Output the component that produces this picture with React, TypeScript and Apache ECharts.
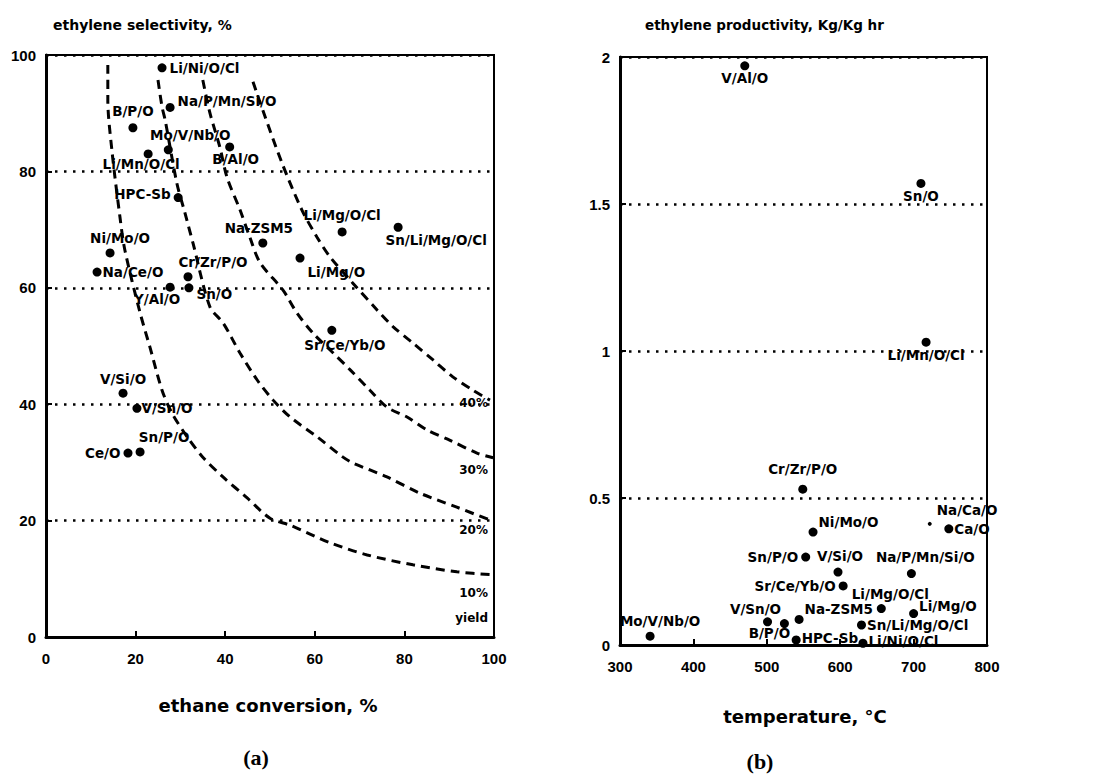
import React, { useEffect, useRef } from "react";
import * as echarts from "echarts";

// ---------- Panel (a): ethylene selectivity vs ethane conversion ----------
const catalystsA = [
  "Li/Ni/O/Cl", "Na/P/Mn/Si/O", "B/P/O", "Mo/V/Nb/O", "Li/Mn/O/Cl", "B/Al/O",
  "HPC-Sb", "Ni/Mo/O", "Na/Ce/O", "Cr/Zr/P/O", "Sn/O", "Y/Al/O", "Li/Mg/O",
  "Li/Mg/O/Cl", "Sn/Li/Mg/O/Cl", "Na-ZSM5", "Sr/Ce/Yb/O", "V/Si/O", "V/Sn/O",
  "Sn/P/O", "Ce/O",
];
const conversionA = [
  25.9, 27.7, 19.4, 27.3, 22.8, 41.0, 29.5, 14.3, 11.4, 31.7, 31.9, 27.7, 56.7,
  66.1, 78.6, 48.4, 63.8, 17.2, 20.3, 21.0, 18.3,
];
const selectivityA = [
  97.8, 91.0, 87.5, 83.7, 83.0, 84.2, 75.5, 66.0, 62.7, 61.9, 60.0, 60.1, 65.1,
  69.6, 70.4, 67.7, 52.7, 41.9, 39.3, 31.8, 31.6,
];

// iso-yield dashed curves
const yield10Conv = [13.8, 13.8, 14.7, 16.5, 17.6, 21.0, 23.2, 25.9, 28.1, 31.5, 35.0, 39.5, 44.9, 50.0, 54.5, 63.4, 71.7, 81.9, 91.7, 99.8];
const yield10Sel = [98.3, 92.3, 83.7, 72.2, 66.5, 55.7, 49.8, 42.4, 38.5, 34.4, 30.9, 27.5, 23.9, 20.4, 19.2, 16.2, 14.1, 12.4, 11.2, 10.7];
const yield20Conv = [25.0, 25.9, 26.6, 29.2, 31.0, 32.8, 36.6, 39.5, 43.3, 47.1, 50.7, 54.5, 60.5, 66.3, 68.5, 76.1, 83.5, 91.7, 99.1];
const yield20Sel = [95.7, 91.1, 88.8, 78.0, 72.9, 67.7, 56.7, 54.0, 48.8, 44.2, 40.7, 37.8, 34.4, 30.9, 29.9, 27.5, 24.7, 22.3, 20.1];
const yield30Conv = [35.0, 36.6, 38.8, 40.4, 43.3, 45.5, 47.8, 52.9, 56.0, 59.6, 64.1, 67.9, 72.3, 76.1, 80.6, 85.0, 90.2, 96.2, 99.8];
const yield30Sel = [95.7, 90.0, 84.2, 79.0, 73.4, 68.7, 64.3, 59.6, 55.7, 52.2, 48.8, 45.9, 42.4, 39.5, 37.8, 35.6, 33.8, 31.6, 30.8];
const yield40Conv = [46.2, 48.4, 52.7, 57.1, 60.5, 63.4, 68.5, 73.9, 77.5, 81.9, 86.4, 90.8, 95.3, 99.1];
const yield40Sel = [95.4, 90.5, 81.4, 73.4, 68.7, 65.3, 60.8, 56.2, 53.3, 50.5, 47.6, 44.7, 42.4, 40.7];
const yieldLabels = ["40%", "30%", "20%", "10%", "yield"];

// ---------- Panel (b): ethylene productivity vs temperature ----------
const catalystsB = [
  "V/Al/O", "Sn/O", "Li/Mn/O/Cl", "Cr/Zr/P/O", "Ni/Mo/O", "Na/Ca/O", "Ca/O",
  "Sn/P/O", "V/Si/O", "Na/P/Mn/Si/O", "Sr/Ce/Yb/O", "Li/Mg/O/Cl", "Na-ZSM5",
  "V/Sn/O", "B/P/O", "HPC-Sb", "Sn/Li/Mg/O/Cl", "Li/Ni/O/Cl", "Li/Mg/O", "Mo/V/Nb/O",
];
const temperatureB = [470, 710, 717, 549, 563, 722, 748, 553, 597, 697, 604, 656, 544, 501, 524, 540, 629, 631, 700, 341];
const productivityB = [1.97, 1.57, 1.03, 0.53, 0.384, 0.412, 0.395, 0.299, 0.248, 0.243, 0.201, 0.124, 0.087, 0.079, 0.073, 0.017, 0.068, 0.006, 0.107, 0.03];

// label placement (style only)
type Place = [string, number, number];
const placeA: Record<string, Place> = {
  "Li/Ni/O/Cl": ["right", 0, 0],
  "Na/P/Mn/Si/O": ["right", 0, -6],
  "B/P/O": ["top", 0, -2],
  "Mo/V/Nb/O": ["top", 22, 0],
  "Li/Mn/O/Cl": ["bottom", -7, -4],
  "B/Al/O": ["bottom", 6, -2],
  "HPC-Sb": ["left", 0, -4],
  "Ni/Mo/O": ["top", 10, 0],
  "Na/Ce/O": ["right", -2, 0],
  "Cr/Zr/P/O": ["top", 25, 0],
  "Sn/O": ["right", 0, 6],
  "Y/Al/O": ["bottom", -13, -3],
  "Li/Mg/O": ["right", 0, 14],
  "Li/Mg/O/Cl": ["top", 0, -2],
  "Sn/Li/Mg/O/Cl": ["bottom", 38, -2],
  "Na-ZSM5": ["top", -4, 0],
  "Sr/Ce/Yb/O": ["bottom", 13, 0],
  "V/Si/O": ["top", 0, 0],
  "V/Sn/O": ["right", -3, 0],
  "Sn/P/O": ["top", 24, 0],
  "Ce/O": ["left", 0, 0],
};
const placeB: Record<string, Place> = {
  "V/Al/O": ["bottom", 0, -2],
  "Sn/O": ["bottom", 0, -2],
  "Li/Mn/O/Cl": ["bottom", 0, -2],
  "Cr/Zr/P/O": ["top", 0, -6],
  "Ni/Mo/O": ["right", -2, -10],
  "Na/Ca/O": ["right", 2, -14],
  "Ca/O": ["right", -2, 0],
  "Sn/P/O": ["left", 0, 0],
  "V/Si/O": ["top", 2, -2],
  "Na/P/Mn/Si/O": ["top", 14, -2],
  "Sr/Ce/Yb/O": ["left", 0, 0],
  "Li/Mg/O/Cl": ["top", 9, 0],
  "Na-ZSM5": ["right", -2, -10],
  "V/Sn/O": ["top", -12, 2],
  "B/P/O": ["bottom", -15, -5],
  "HPC-Sb": ["right", -2, -2],
  "Sn/Li/Mg/O/Cl": ["right", -2, 0],
  "Li/Ni/O/Cl": ["right", -2, -2],
  "Li/Mg/O": ["right", -2, -8],
  "Mo/V/Nb/O": ["top", 10, -1],
};

const LABEL_FONT = "DejaVu Sans";
const TICK_FONT = "Liberation Sans";

function pts(xs: number[], ys: number[]) {
  return xs.map((x, i) => [x, ys[i]]);
}

function scatterData(names: string[], xs: number[], ys: number[], place: Record<string, Place>) {
  return names.map((n, i) => {
    const p = place[n] || ["right", 0, 0];
    return {
      name: n,
      value: [xs[i], ys[i]],
      symbolSize: n === "Na/Ca/O" ? 4 : 9,
      label: { position: p[0], offset: [p[1], p[2]] },
    };
  });
}

function axisCommon() {
  return {
    type: "value" as const,
    axisLine: { show: true, onZero: false, lineStyle: { color: "#000", width: 3 } },
    axisTick: { show: true, inside: true, length: 6, lineStyle: { color: "#000", width: 2 } },
    axisLabel: { color: "#000", fontSize: 15, fontWeight: "bold", fontFamily: TICK_FONT },
  };
}

const dotted = { show: true, lineStyle: { color: "#000", width: 2.5, type: [2.5, 6.5] } };

function dashedLine(data: number[][]) {
  return {
    type: "line",
    xAxisIndex: 0,
    yAxisIndex: 0,
    data,
    showSymbol: false,
    symbol: "none",
    smooth: 0.3,
    silent: true,
    z: 1,
    lineStyle: { color: "#000", width: 3, type: [9, 6] },
  };
}

export default function App() {
  const ref = useRef<HTMLDivElement>(null);
  useEffect(() => {
    if (!ref.current) return;
    const chart = echarts.init(ref.current, undefined, { renderer: "svg" });
    const labelStyle = {
      show: true,
      formatter: "{b}",
      color: "#000",
      fontFamily: LABEL_FONT,
      fontWeight: "bold",
      fontSize: 13.5,
      distance: 3,
    };
    const yieldY = [403, 470, 530, 593, 618];
    const option: any = {
      animation: false,
      backgroundColor: "#fff",
      grid: [
        { left: 46, top: 55, width: 448, height: 582, show: true, borderColor: "#000", borderWidth: 2 },
        { left: 620, top: 57, width: 367, height: 588, show: true, borderColor: "#000", borderWidth: 2 },
      ],
      xAxis: [
        { ...axisCommon(), gridIndex: 0, min: 0, max: 100, interval: 20, splitLine: { show: false },
          axisLabel: { ...axisCommon().axisLabel, margin: 14 } },
        { ...axisCommon(), gridIndex: 1, min: 300, max: 800, interval: 100, splitLine: { show: false },
          axisLabel: { ...axisCommon().axisLabel, margin: 14 } },
      ],
      yAxis: [
        { ...axisCommon(), gridIndex: 0, min: 0, max: 100, interval: 20, splitLine: dotted,
          axisLabel: { ...axisCommon().axisLabel, margin: 10 } },
        { ...axisCommon(), gridIndex: 1, min: 0, max: 2, interval: 0.5, splitLine: dotted,
          axisLabel: { ...axisCommon().axisLabel, margin: 10 } },
      ],
      series: [
        dashedLine(pts(yield10Conv, yield10Sel)),
        dashedLine(pts(yield20Conv, yield20Sel)),
        dashedLine(pts(yield30Conv, yield30Sel)),
        dashedLine(pts(yield40Conv, yield40Sel)),
        {
          type: "scatter",
          xAxisIndex: 0,
          yAxisIndex: 0,
          symbolSize: 9,
          itemStyle: { color: "#000", opacity: 1 },
          label: labelStyle,
          z: 3,
          silent: true,
          data: scatterData(catalystsA, conversionA, selectivityA, placeA),
        },
        {
          type: "scatter",
          xAxisIndex: 1,
          yAxisIndex: 1,
          symbolSize: 9,
          clip: false,
          itemStyle: { color: "#000", opacity: 1 },
          label: labelStyle,
          z: 3,
          silent: true,
          data: scatterData(catalystsB, temperatureB, productivityB, placeB),
        },
      ],
      graphic: [
        { type: "text", x: 53, y: 25, style: { text: "ethylene selectivity, %", fill: "#000", font: `bold 14px ${LABEL_FONT}`, verticalAlign: "middle" } },
        { type: "text", x: 645, y: 25, style: { text: "ethylene productivity, Kg/Kg hr", fill: "#000", font: `bold 13.5px ${LABEL_FONT}`, verticalAlign: "middle" } },
        { type: "text", x: 268, y: 705, style: { text: "ethane conversion, %", fill: "#000", font: `bold 18px ${LABEL_FONT}`, align: "center", verticalAlign: "middle" } },
        { type: "text", x: 805, y: 716, style: { text: "temperature, °C", fill: "#000", font: `bold 18px ${LABEL_FONT}`, align: "center", verticalAlign: "middle" } },
        { type: "text", x: 256, y: 757, style: { text: "(a)", fill: "#000", font: "bold 22px Liberation Serif", align: "center", verticalAlign: "middle" } },
        { type: "text", x: 760, y: 761, style: { text: "(b)", fill: "#000", font: "bold 22px Liberation Serif", align: "center", verticalAlign: "middle" } },
        ...yieldLabels.map((t, i) => ({
          type: "text",
          x: 488,
          y: yieldY[i],
          style: { text: t, fill: "#000", font: `bold 12px ${LABEL_FONT}`, align: "right", verticalAlign: "middle" },
        })),
      ],
    };
    chart.setOption(option);
    return () => chart.dispose();
  }, []);
  return (
    <div
      ref={ref}
      style={{ position: "fixed", left: 0, top: 0, width: 1109, height: 774, background: "#fff" }}
    />
  );
}
